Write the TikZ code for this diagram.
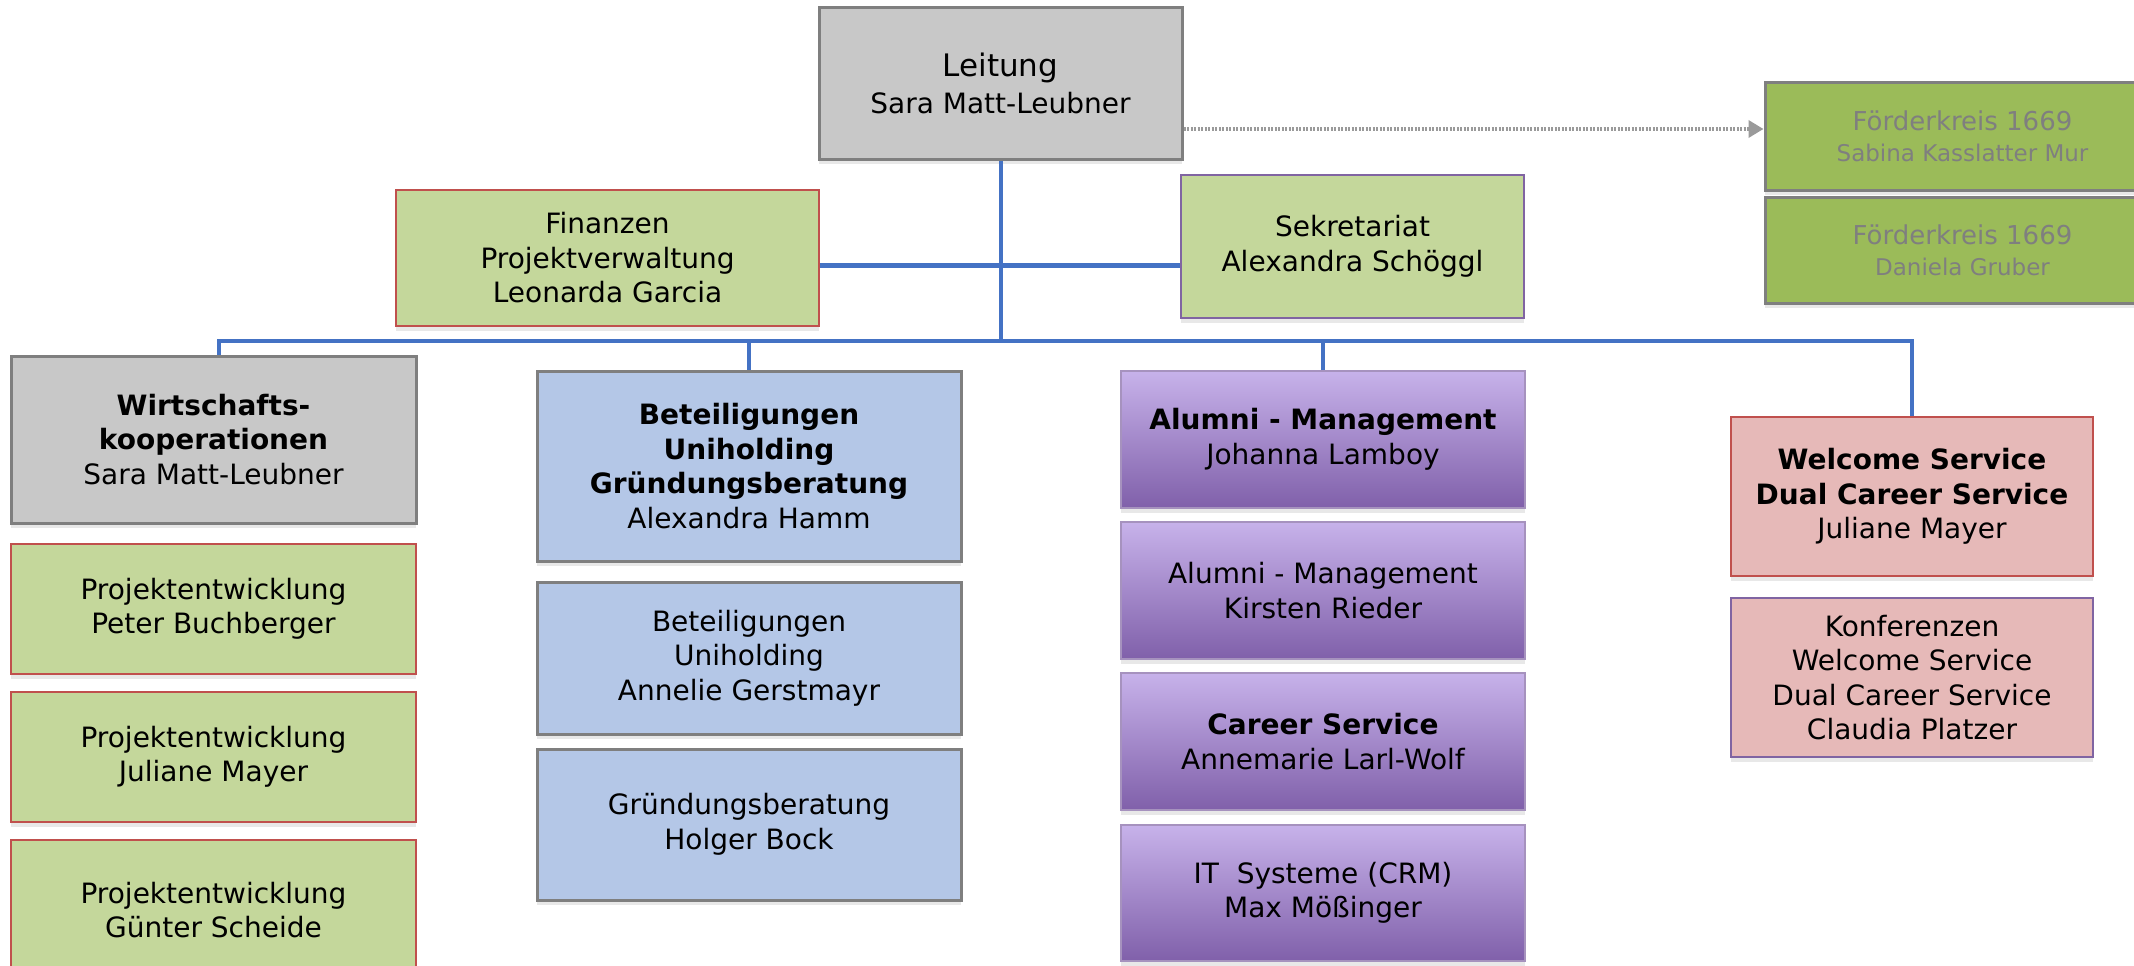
\documentclass[tikz,border=0pt]{standalone}
\usepackage{fontspec}
\setmainfont{DejaVu Sans}
\usetikzlibrary{arrows.meta}
\usetikzlibrary{shadows}

\definecolor{grauFill}{HTML}{C8C8C8}
\definecolor{grauRand}{HTML}{7F7F7F}
\definecolor{gruenHell}{HTML}{C4D79B}
\definecolor{gruenDunkel}{HTML}{9BBB59}
\definecolor{blauHell}{HTML}{B4C7E7}
\definecolor{rosaFill}{HTML}{E6B9B8}
\definecolor{rotRand}{HTML}{C0504D}
\definecolor{lilaRand}{HTML}{8064A2}
\definecolor{lilaOben}{HTML}{C7B2EA}
\definecolor{lilaUnten}{HTML}{8060AA}
\definecolor{linienBlau}{HTML}{4472C4}
\definecolor{pfeilGrau}{HTML}{9A9A9A}

\begin{document}
\begin{tikzpicture}
	[x=1pt,y=-1pt,
	every node/.style={rectangle,align=center,inner sep=0pt,text=black,font=\fontsize{28}{34.5}\selectfont},
	sz/.style 2 args={minimum width=#1pt,minimum height=#2pt},
	box/.style={draw,line width=3pt,drop shadow={shadow xshift=0pt,shadow yshift=-5pt,opacity=.18}},
	grau/.style={box,fill=grauFill,draw=grauRand},
	gruen/.style={box,fill=gruenHell},
	rotrand/.style={draw=rotRand,line width=2pt},
	lilarand/.style={draw=lilaRand,line width=2pt},
	foerder/.style={box,fill=gruenDunkel,draw=grauRand,text=grauRand,font=\fontsize{26}{31}\selectfont},
	blau/.style={box,fill=blauHell,draw=grauRand},
	lila/.style={box,top color=lilaOben,bottom color=lilaUnten,draw=lilaRand!70,line width=2pt},
	rosa/.style={box,fill=rosaFill},
	linie/.style={draw=linienBlau,line width=4pt},
	pfeil/.style={draw=pfeilGrau,line width=3.5pt,dash pattern=on 2pt off 1.5pt,-{Triangle[length=15pt,width=17pt]}}]
	\useasboundingbox (0,0) rectangle (2134,966);

	% Leitung und Foerderkreis
	\node[grau,sz={363}{151},font=\fontsize{28}{37}\selectfont] (leitung) at (1000.5,83.5) {{\fontsize{31}{37}\selectfont Leitung}\\Sara Matt-Leubner};
	\node[foerder,sz={395}{107}] (foerder1) at (1962.5,136.5) {Förderkreis 1669\\{\fontsize{23}{31}\selectfont Sabina Kasslatter Mur}};
	\node[foerder,sz={395}{106}] (foerder2) at (1962.5,250) {Förderkreis 1669\\{\fontsize{23}{31}\selectfont Daniela Gruber}};

	% Stab
	\node[gruen,rotrand,sz={423}{136}] (finanzen) at (607.5,258) {Finanzen\\Projektverwaltung\\Leonarda Garcia};
	\node[gruen,lilarand,sz={343}{143}] (sekretariat) at (1352.5,246.5) {Sekretariat\\Alexandra Schöggl};

	% Wirtschaftskooperationen
	\node[grau,sz={405}{167}] (wirtschaft) at (213.5,439.5) {\textbf{Wirtschafts-}\\\textbf{kooperationen}\\Sara Matt-Leubner};
	\node[gruen,rotrand,sz={405}{130}] (projekt1) at (213.5,609) {Projektentwicklung\\Peter Buchberger};
	\node[gruen,rotrand,sz={405}{130}] (projekt2) at (213.5,757) {Projektentwicklung\\Juliane Mayer};
	\node[gruen,rotrand,sz={405}{140}] (projekt3) at (213.5,910) {Projektentwicklung\\Günter Scheide};

	% Beteiligungen
	\node[blau,sz={424}{190}] (beteiligung) at (749,466) {\textbf{Beteiligungen}\\\textbf{Uniholding}\\\textbf{Gründungsberatung}\\Alexandra Hamm};
	\node[blau,sz={424}{152}] (uniholding) at (749,658) {Beteiligungen\\Uniholding\\Annelie Gerstmayr};
	\node[blau,sz={424}{151}] (gruendung) at (749,824.5) {Gründungsberatung\\Holger Bock};

	% Alumni und Career
	\node[lila,sz={404}{137}] (alumni) at (1323,439.5) {\textbf{Alumni - Management}\\Johanna Lamboy};
	\node[lila,sz={404}{137}] (alumni2) at (1323,590.5) {Alumni - Management\\Kirsten Rieder};
	\node[lila,sz={404}{137}] (career) at (1323,741.5) {\textbf{Career Service}\\Annemarie Larl-Wolf};
	\node[lila,sz={404}{136}] (itsys) at (1323,893) {IT\ \ Systeme (CRM)\\Max Mößinger};

	% Welcome Service
	\node[rosa,rotrand,sz={362}{159}] (welcome) at (1912,496.5) {\textbf{Welcome Service}\\\textbf{Dual Career Service}\\Juliane Mayer};
	\node[rosa,lilarand,sz={362}{159}] (konferenz) at (1912,677.5) {Konferenzen\\Welcome Service\\Dual Career Service\\Claudia Platzer};

	\coordinate (knoten) at (leitung.south |- 0,341);
	\coordinate (mitte) at (leitung.south |- 0,265);
	\coordinate (ziel) at ([yshift=7.5pt]foerder1.west);

	\draw[linie] (leitung.south) -- (knoten);
	\draw[linie,line width=5pt] (finanzen.east |- mitte) -- (sekretariat.west |- mitte);
	\draw[linie] ([xshift=5.5pt]wirtschaft.north) |- (knoten) -| (welcome.north);
	\foreach \abt in {beteiligung,alumni}
	\draw[linie] (\abt.north) -- (\abt.north |- knoten);
	\draw[pfeil] (leitung.east |- ziel) -- (ziel);
\end{tikzpicture}
\end{document}
